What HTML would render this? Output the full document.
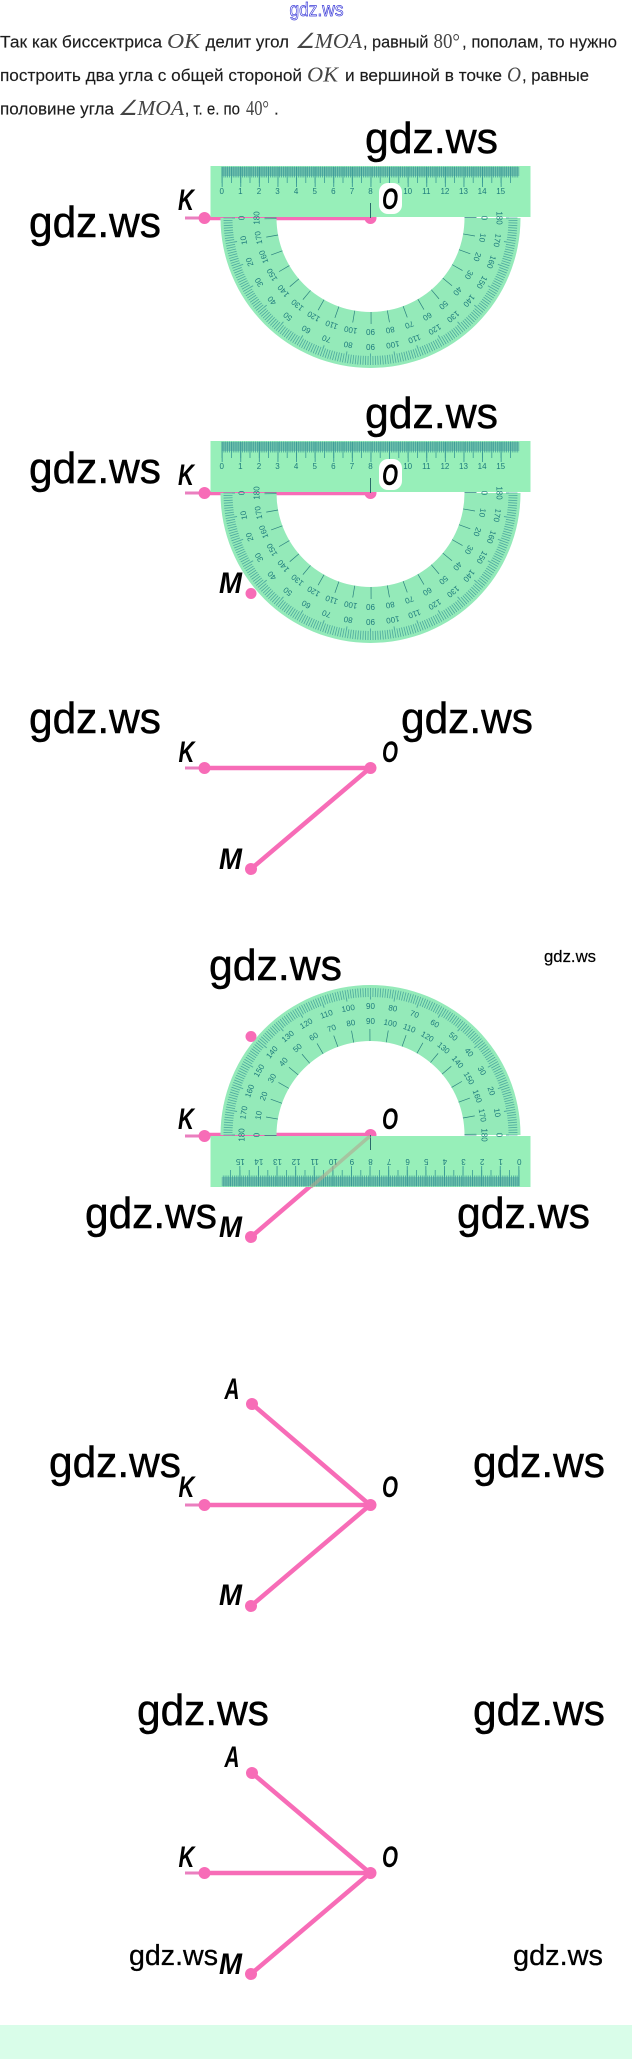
<!DOCTYPE html>
<html lang="ru"><head><meta charset="utf-8"><title>gdz.ws</title>
<style>
html,body{margin:0;padding:0;background:#fff;width:632px;height:2059px;overflow:hidden}
svg{display:block}
.b{font-family:"Liberation Sans",sans-serif;font-size:17px;fill:#1f1f1f;stroke:#1f1f1f;stroke-width:.15}
.m{font-family:"Liberation Serif",serif;font-style:italic;font-size:21px;fill:#444}
.n{font-family:"Liberation Serif",serif;font-size:21px;fill:#444}
.w{font-family:"Liberation Sans",sans-serif;font-size:44px;fill:#000;stroke:#000;stroke-width:.5}
.ws{font-size:29px;stroke-width:.3}
.wt{font-size:17px;stroke-width:.2}
.l{font-family:"Liberation Sans",sans-serif;font-weight:bold;font-style:italic;font-size:30px;fill:#000}
.t{font-family:"Liberation Sans",sans-serif;font-size:8px;fill:#1d7a7c;text-anchor:middle}
.p{stroke:#f76cb7;stroke-width:4.5;fill:none}
.s{stroke:#ea7fbf;stroke-width:3;fill:none}
.d{fill:#f76cb7}
</style></head><body>
<svg width="632" height="2059" viewBox="0 0 632 2059" xmlns="http://www.w3.org/2000/svg">
<defs>
<clipPath id="hc"><rect x="-160" y="-160" width="320" height="161"/></clipPath>
<filter id="soft" x="-10%" y="-10%" width="120%" height="120%"><feGaussianBlur stdDeviation="0.35"/></filter>
<g id="tool">
<path d="M-150,0 A150,150 0 0 1 150,0 L94,0 A94,94 0 0 0 -94,0 Z" fill="#94eab9"/>
<g clip-path="url(#hc)" fill="none">
<circle r="142.5" stroke="#4fab9f" stroke-width="9" pathLength="360" stroke-dasharray=".34 .66" stroke-dashoffset=".17"/>
<circle r="137" stroke="#4fab9f" stroke-width="3" pathLength="360" stroke-dasharray=".4 9.6" stroke-dashoffset=".2"/>
<circle r="100" stroke="#2a7f7f" stroke-width="12" pathLength="360" stroke-dasharray=".4 9.6" stroke-dashoffset=".2"/>
</g>
<g transform="rotate(180)">
<rect x="-160" y="-52" width="320" height="51" fill="#97efb9"/>
<rect x="-148.8" y="-51" width="297.6" height="9" fill="#74c5ae"/>
<g fill="none" stroke="#3a9a97">
<line x1="-148.8" x2="148.8" y1="-46" y2="-46" stroke-width="11" stroke-dasharray=".7 1.16"/>
<line x1="-148.8" x2="148.8" y1="-43" y2="-43" stroke-width="16" stroke-dasharray=".8 8.5"/>
<line x1="-148.8" x2="148.8" y1="-41" y2="-41" stroke-width="20" stroke-dasharray=".9 17.7"/>
<line x1="0" x2="0" y1="-15" y2="0" stroke="#2a6a6a" stroke-width="1"/>
</g>
<g class="t">
<text x="-148.8" y="-24">0</text><text x="-130.2" y="-24">1</text><text x="-111.6" y="-24">2</text><text x="-93" y="-24">3</text>
<text x="-74.4" y="-24">4</text><text x="-55.8" y="-24">5</text><text x="-37.2" y="-24">6</text><text x="-18.6" y="-24">7</text>
<text x="0" y="-24">8</text><text x="18.6" y="-24">9</text><text x="37.2" y="-24">10</text><text x="55.8" y="-24">11</text>
<text x="74.4" y="-24">12</text><text x="93" y="-24">13</text><text x="111.6" y="-24">14</text><text x="130.2" y="-24">15</text>
</g>
</g>
<g class="t">
<g transform="rotate(-90)"><text y="-111">0</text><text y="-126">180</text></g>
<g transform="rotate(-80)"><text y="-111">10</text><text y="-126">170</text></g>
<g transform="rotate(-70)"><text y="-111">20</text><text y="-126">160</text></g>
<g transform="rotate(-60)"><text y="-111">30</text><text y="-126">150</text></g>
<g transform="rotate(-50)"><text y="-111">40</text><text y="-126">140</text></g>
<g transform="rotate(-40)"><text y="-111">50</text><text y="-126">130</text></g>
<g transform="rotate(-30)"><text y="-111">60</text><text y="-126">120</text></g>
<g transform="rotate(-20)"><text y="-111">70</text><text y="-126">110</text></g>
<g transform="rotate(-10)"><text y="-111">80</text><text y="-126">100</text></g>
<g transform="rotate(0)"><text y="-111">90</text><text y="-126">90</text></g>
<g transform="rotate(10)"><text y="-111">100</text><text y="-126">80</text></g>
<g transform="rotate(20)"><text y="-111">110</text><text y="-126">70</text></g>
<g transform="rotate(30)"><text y="-111">120</text><text y="-126">60</text></g>
<g transform="rotate(40)"><text y="-111">130</text><text y="-126">50</text></g>
<g transform="rotate(50)"><text y="-111">140</text><text y="-126">40</text></g>
<g transform="rotate(60)"><text y="-111">150</text><text y="-126">30</text></g>
<g transform="rotate(70)"><text y="-111">160</text><text y="-126">20</text></g>
<g transform="rotate(80)"><text y="-111">170</text><text y="-126">10</text></g>
<g transform="rotate(90)"><text y="-111">180</text><text y="-126">0</text></g>
</g>
</g>
</defs>

<!-- header -->
<text x="289.5" y="16" textLength="54" lengthAdjust="spacingAndGlyphs" style="font-family:'Liberation Sans',sans-serif;font-size:19px;fill:#fff;stroke:#3a3ad8;stroke-width:.7">gdz.ws</text>

<!-- paragraph -->
<g filter="url(#soft)">
<text class="b" x="0" y="47.5" textLength="162" lengthAdjust="spacingAndGlyphs">Так как биссектриса</text>
<text class="m" x="167" y="48" textLength="33" lengthAdjust="spacingAndGlyphs">OK</text>
<text class="b" x="205.5" y="47.5" textLength="83.5" lengthAdjust="spacingAndGlyphs">делит угол</text>
<text class="m" x="295" y="48" textLength="67" lengthAdjust="spacingAndGlyphs">∠MOA</text>
<text class="b" x="363" y="47.5" textLength="65.5" lengthAdjust="spacingAndGlyphs">, равный</text>
<text class="n" x="433.5" y="48" textLength="26.5" lengthAdjust="spacingAndGlyphs">80°</text>
<text class="b" x="462" y="47.5" textLength="155" lengthAdjust="spacingAndGlyphs">, пополам, то нужно</text>

<text class="b" x="0" y="81" textLength="302" lengthAdjust="spacingAndGlyphs">построить два угла с общей стороной</text>
<text class="m" x="307" y="81.5" textLength="31" lengthAdjust="spacingAndGlyphs">OK</text>
<text class="b" x="345" y="81" textLength="157" lengthAdjust="spacingAndGlyphs">и вершиной в точке</text>
<text class="m" x="507" y="81.5" textLength="14" lengthAdjust="spacingAndGlyphs">O</text>
<text class="b" x="522" y="81" textLength="67" lengthAdjust="spacingAndGlyphs">, равные</text>

<text class="b" x="0" y="114.5" textLength="114" lengthAdjust="spacingAndGlyphs">половине угла</text>
<text class="m" x="118" y="115" textLength="66" lengthAdjust="spacingAndGlyphs">∠MOA</text>
<text class="b" x="185" y="114.5" textLength="55" lengthAdjust="spacingAndGlyphs">, т. е. по</text>
<text class="n" x="246" y="115" textLength="23" lengthAdjust="spacingAndGlyphs">40°</text>
<text class="b" x="274" y="114.5">.</text>
</g>

<!-- scene 1 -->
<line class="s" x1="185" y1="218" x2="204" y2="218"/>
<line class="p" x1="204" y1="218" x2="370" y2="218"/>
<circle class="d" cx="204.5" cy="218" r="6"/><circle class="d" cx="370.5" cy="218" r="6"/>
<use href="#tool" transform="translate(370.5,218) rotate(180)" filter="url(#soft)"/>
<rect x="379" y="183" width="23" height="31" rx="9" fill="#fff"/>
<text class="l" x="178" y="210" textLength="16" lengthAdjust="spacingAndGlyphs">K</text>
<text class="l" x="382" y="209" textLength="16" lengthAdjust="spacingAndGlyphs">O</text>

<!-- scene 2 -->
<line class="s" x1="185" y1="493" x2="204" y2="493"/>
<line class="p" x1="204" y1="493" x2="370" y2="493"/>
<circle class="d" cx="204.5" cy="493" r="6"/><circle class="d" cx="370.5" cy="493" r="6"/>
<use href="#tool" transform="translate(370.5,493) rotate(180)" filter="url(#soft)"/>
<circle class="d" cx="251" cy="593.5" r="5.5"/>
<rect x="379" y="459" width="23" height="31" rx="9" fill="#fff"/>
<text class="l" x="178" y="485" textLength="16" lengthAdjust="spacingAndGlyphs">K</text>
<text class="l" x="382" y="485" textLength="16" lengthAdjust="spacingAndGlyphs">O</text>
<text class="l" x="219" y="593" textLength="23" lengthAdjust="spacingAndGlyphs">M</text>

<!-- scene 3 -->
<line class="s" x1="185" y1="768" x2="204" y2="768"/>
<line class="p" x1="204" y1="768" x2="370" y2="768"/>
<line class="p" x1="370" y1="768" x2="251" y2="869"/>
<circle class="d" cx="204.5" cy="768" r="6"/><circle class="d" cx="370.5" cy="768" r="6"/><circle class="d" cx="251" cy="869" r="6"/>
<text class="l" x="178.5" y="762" textLength="16" lengthAdjust="spacingAndGlyphs">K</text>
<text class="l" x="382" y="762" textLength="16" lengthAdjust="spacingAndGlyphs">O</text>
<text class="l" x="219" y="869" textLength="23" lengthAdjust="spacingAndGlyphs">M</text>

<!-- scene 4 -->
<line class="s" x1="185" y1="1136" x2="204" y2="1136"/>
<line class="p" x1="204" y1="1135" x2="370" y2="1135"/>
<line class="p" x1="370" y1="1135" x2="251" y2="1237"/>
<circle class="d" cx="204.5" cy="1136" r="6"/><circle class="d" cx="370.5" cy="1135" r="6"/>
<use href="#tool" transform="translate(370.5,1135)" filter="url(#soft)"/>
<line x1="370" y1="1136" x2="311" y2="1187" stroke="#b0a890" stroke-width="3.5" opacity=".6"/>
<circle class="d" cx="251" cy="1237" r="6"/><circle class="d" cx="251" cy="1036.5" r="5.5"/>
<text class="l" x="178" y="1129" textLength="16" lengthAdjust="spacingAndGlyphs">K</text>
<text class="l" x="382" y="1129" textLength="16" lengthAdjust="spacingAndGlyphs">O</text>
<text class="l" x="219" y="1237" textLength="23" lengthAdjust="spacingAndGlyphs">M</text>

<!-- scene 5 -->
<line class="s" x1="185" y1="1505" x2="204" y2="1505"/>
<line class="p" x1="204" y1="1505" x2="370" y2="1505"/>
<line class="p" x1="370" y1="1505" x2="251" y2="1606"/>
<line class="p" x1="370" y1="1505" x2="252" y2="1404"/>
<circle class="d" cx="204.5" cy="1505" r="6"/><circle class="d" cx="370.5" cy="1505" r="6"/><circle class="d" cx="251" cy="1606" r="6"/><circle class="d" cx="252" cy="1404" r="6"/>
<text class="l" x="224.5" y="1399" textLength="15" lengthAdjust="spacingAndGlyphs">A</text>
<text class="l" x="178.5" y="1497" textLength="16" lengthAdjust="spacingAndGlyphs">K</text>
<text class="l" x="382" y="1497" textLength="16" lengthAdjust="spacingAndGlyphs">O</text>
<text class="l" x="219" y="1605" textLength="23" lengthAdjust="spacingAndGlyphs">M</text>

<!-- scene 6 -->
<line class="s" x1="185" y1="1873" x2="204" y2="1873"/>
<line class="p" x1="204" y1="1873" x2="370" y2="1873"/>
<line class="p" x1="370" y1="1873" x2="251" y2="1974"/>
<line class="p" x1="370" y1="1873" x2="252" y2="1773"/>
<circle class="d" cx="204.5" cy="1873" r="6"/><circle class="d" cx="370.5" cy="1873" r="6"/><circle class="d" cx="251" cy="1974" r="6"/><circle class="d" cx="252" cy="1773" r="6"/>
<text class="l" x="224.5" y="1767" textLength="15" lengthAdjust="spacingAndGlyphs">A</text>
<text class="l" x="178.5" y="1867" textLength="16" lengthAdjust="spacingAndGlyphs">K</text>
<text class="l" x="382" y="1867" textLength="16" lengthAdjust="spacingAndGlyphs">O</text>
<text class="l" x="219" y="1974" textLength="23" lengthAdjust="spacingAndGlyphs">M</text>

<!-- watermarks -->
<text class="w" x="365" y="153" textLength="133" lengthAdjust="spacingAndGlyphs">gdz.ws</text>
<text class="w" x="29" y="237" textLength="132" lengthAdjust="spacingAndGlyphs">gdz.ws</text>
<text class="w" x="365" y="428" textLength="133" lengthAdjust="spacingAndGlyphs">gdz.ws</text>
<text class="w" x="29" y="483" textLength="132" lengthAdjust="spacingAndGlyphs">gdz.ws</text>
<text class="w" x="29" y="733" textLength="132" lengthAdjust="spacingAndGlyphs">gdz.ws</text>
<text class="w" x="401" y="733" textLength="132" lengthAdjust="spacingAndGlyphs">gdz.ws</text>
<text class="w" x="209" y="980" textLength="133" lengthAdjust="spacingAndGlyphs">gdz.ws</text>
<text class="w wt" x="544" y="962" textLength="52" lengthAdjust="spacingAndGlyphs">gdz.ws</text>
<text class="w" x="85" y="1228" textLength="132" lengthAdjust="spacingAndGlyphs">gdz.ws</text>
<text class="w" x="457" y="1228" textLength="133" lengthAdjust="spacingAndGlyphs">gdz.ws</text>
<text class="w" x="49" y="1477" textLength="132" lengthAdjust="spacingAndGlyphs">gdz.ws</text>
<text class="w" x="473" y="1477" textLength="132" lengthAdjust="spacingAndGlyphs">gdz.ws</text>
<text class="w" x="137" y="1725" textLength="132" lengthAdjust="spacingAndGlyphs">gdz.ws</text>
<text class="w" x="473" y="1725" textLength="132" lengthAdjust="spacingAndGlyphs">gdz.ws</text>
<text class="w ws" x="129" y="1965" textLength="89" lengthAdjust="spacingAndGlyphs">gdz.ws</text>
<text class="w ws" x="513" y="1965" textLength="90" lengthAdjust="spacingAndGlyphs">gdz.ws</text>

<!-- footer band -->
<rect x="0" y="2025" width="632" height="34" fill="#d9fde9"/>
</svg>
</body></html>
